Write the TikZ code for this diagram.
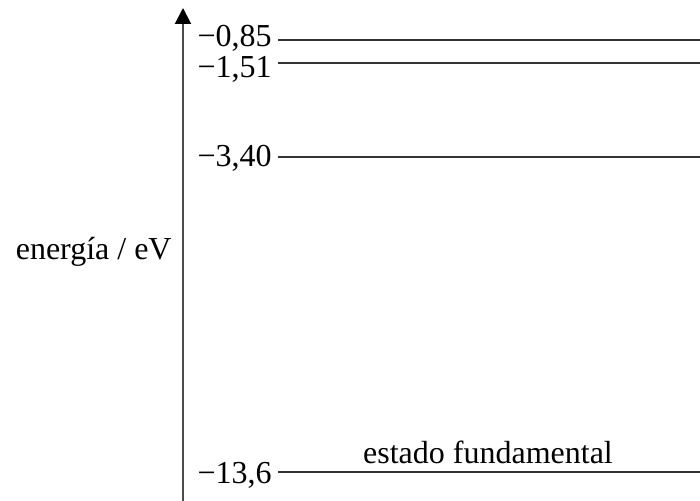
\documentclass[tikz,border=0pt]{standalone}
\usepackage{fontspec}
\setmainfont{Liberation Serif}
\usetikzlibrary{arrows.meta, positioning}

\begin{document}
\begin{tikzpicture}[x=0.5pt, y=-0.5pt,
    axis/.style={line width=1pt, black!70, -{Triangle[width=8pt, length=8pt, color=black]}},
    level/.style={line width=0.75pt, black!80},
    value/.style={anchor=base east, inner sep=0pt, font=\fontsize{16}{19}\selectfont},
    caption/.style={anchor=base, inner sep=0pt, font=\fontsize{16}{19}\selectfont}]
    \useasboundingbox (0,0) rectangle (700,501);

    \coordinate (origin) at (183,501);
    \coordinate (top) at (183,8);
    \draw [axis] (origin) -- (top);
    \node [value] (quantity) at (172,260) {energía / eV};

    \coordinate (n4l) at (278,40);  \coordinate (n4r) at (700,40);
    \coordinate (n3l) at (278,63);  \coordinate (n3r) at (700,63);
    \coordinate (n2l) at (278,157); \coordinate (n2r) at (700,157);
    \coordinate (n1l) at (278,472); \coordinate (n1r) at (700,472);

    \draw [level] (n4l) -- (n4r);
    \draw [level] (n3l) -- (n3r);
    \draw [level] (n2l) -- (n2r);
    \draw [level] (n1l) -- (n1r);

    \node [value] (e4) at (272,47)  {−0,85};
    \node [value] (e3) at (272,78)  {−1,51};
    \node [value] (e2) at (272,167) {−3,40};
    \node [value] (e1) at (272,483) {−13,6};
    \node [caption] (ground) at (488,463) {estado fundamental};
\end{tikzpicture}
\end{document}
